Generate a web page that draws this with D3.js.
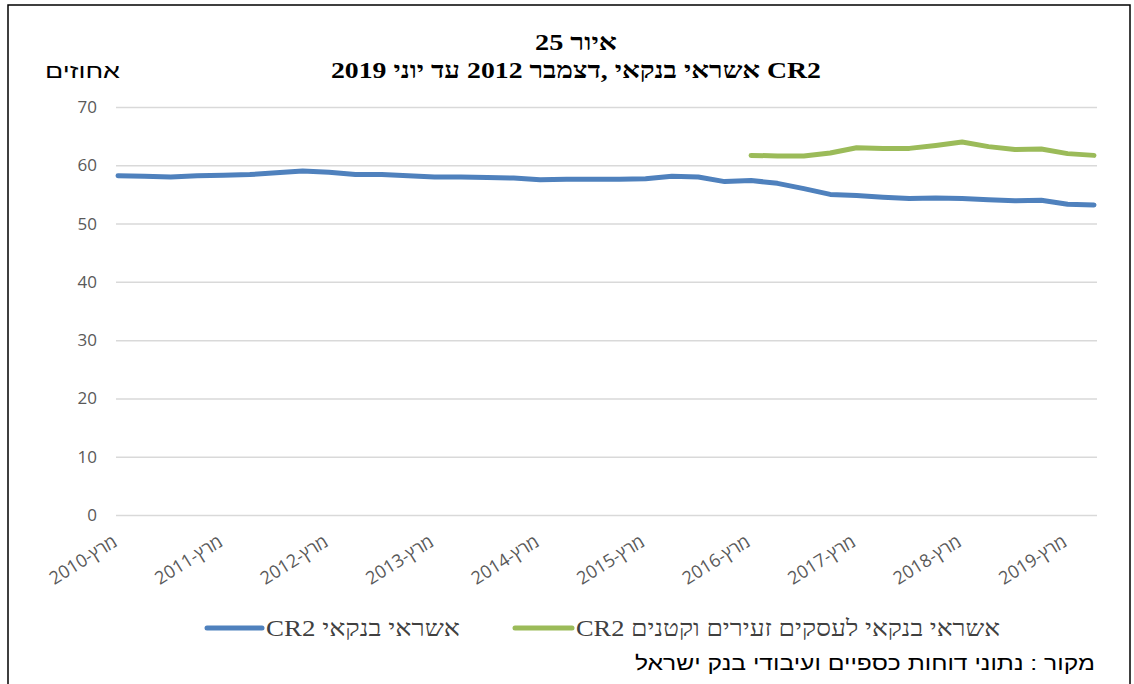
<!DOCTYPE html>
<html>
<head>
<meta charset="utf-8">
<script src="https://cdn.jsdelivr.net/npm/d3@7"></script>
<style>
  body { margin: 0; background: #fff; }
</style>
</head>
<body>
<svg width="1134" height="684"></svg>
<script>
const svg = d3.select("svg");

// quarterly categories, March 2010 .. June 2019
var quarters = [
  "מרץ-2010", "יוני-2010", "ספט-2010", "דצמ-2010",
  "מרץ-2011", "יוני-2011", "ספט-2011", "דצמ-2011",
  "מרץ-2012", "יוני-2012", "ספט-2012", "דצמ-2012",
  "מרץ-2013", "יוני-2013", "ספט-2013", "דצמ-2013",
  "מרץ-2014", "יוני-2014", "ספט-2014", "דצמ-2014",
  "מרץ-2015", "יוני-2015", "ספט-2015", "דצמ-2015",
  "מרץ-2016", "יוני-2016", "ספט-2016", "דצמ-2016",
  "מרץ-2017", "יוני-2017", "ספט-2017", "דצמ-2017",
  "מרץ-2018", "יוני-2018", "ספט-2018", "דצמ-2018",
  "מרץ-2019", "יוני-2019",
];

var bankCredit = [
  58.2, 58.1, 58.0, 58.2, 58.3, 58.4, 58.7, 59.0, 58.8, 58.4,
  58.4, 58.2, 58.0, 58.0, 57.9, 57.8, 57.5, 57.6, 57.6, 57.6,
  57.7, 58.1, 58.0, 57.2, 57.4, 56.9, 56.0, 55.0, 54.8, 54.5,
  54.3, 54.4, 54.3, 54.1, 53.9, 54.0, 53.3, 53.2,
];

var smallBizCredit = [
  null, null, null, null, null, null, null, null, null, null,
  null, null, null, null, null, null, null, null, null, null,
  null, null, null, null, 61.7, 61.6, 61.6, 62.1, 63.0, 62.9,
  62.9, 63.4, 64.0, 63.2, 62.7, 62.8, 62.0, 61.7,
];

var yTicks = [0, 10, 20, 30, 40, 50, 60, 70];

var seriesNames = ["אשראי בנקאי CR2", "אשראי בנקאי לעסקים זעירים וקטנים CR2"];
var seriesColors = ["#4f81bd", "#9bbb59"];

var x = d3.scalePoint().domain(quarters).range([118, 1094]);
var y = d3.scaleLinear().domain([0, 70]).range([515, 107]);

// outer frame
svg
  .append("rect")
  .attr("x", 8)
  .attr("y", 5)
  .attr("width", 1122)
  .attr("height", 690)
  .attr("fill", "none")
  .attr("stroke", "#000")
  .attr("stroke-width", 1.5);

// titles
var title = svg
  .append("g")
  .attr("font-family", "'Liberation Serif', 'DejaVu Serif', serif")
  .attr("font-weight", "bold")
  .attr("fill", "#000")
  .attr("text-anchor", "middle")
  .attr("direction", "rtl");

title
  .append("text")
  .attr("x", 576)
  .attr("y", 50)
  .attr("font-size", 23)
  .attr("textLength", 82)
  .attr("lengthAdjust", "spacingAndGlyphs")
  .text("איור 25");
title
  .append("text")
  .attr("x", 576)
  .attr("y", 78)
  .attr("font-size", 23)
  .attr("textLength", 490)
  .attr("lengthAdjust", "spacingAndGlyphs")
  .text("CR2 אשראי בנקאי ,דצמבר 2012 עד יוני 2019");

svg
  .append("text")
  .attr("x", 120)
  .attr("y", 78)
  .attr("text-anchor", "end")
  .attr("font-family", "'Liberation Sans', 'DejaVu Sans', sans-serif")
  .attr("font-size", 20)
  .attr("textLength", 75)
  .attr("lengthAdjust", "spacingAndGlyphs")
  .attr("fill", "#000")
  .text("אחוזים");

// gridlines + y labels
var yAxis = svg
  .append("g")
  .attr("transform", "translate(116,0)")
  .call(
    d3
      .axisLeft(y)
      .tickValues(yTicks)
      .tickSize(-981)
      .tickPadding(19)
  );

yAxis.select(".domain").remove();
yAxis
  .selectAll(".tick line")
  .attr("stroke", "#d9d9d9")
  .attr("stroke-width", 1.5);
yAxis
  .selectAll(".tick text")
  .attr("font-family", "'Open Sans', 'DejaVu Sans', sans-serif")
  .attr("font-size", 17)
  .attr("fill", "#595959");

// x labels, every March
var xAxis = svg
  .append("g")
  .attr("transform", "translate(0,515)")
  .call(
    d3
      .axisBottom(x)
      .tickValues(quarters.filter((d, i) => i % 4 == 0))
      .tickSize(0)
      .tickPadding(0)
  );

xAxis.select(".domain").remove();
xAxis
  .selectAll(".tick text")
  .attr("font-family", "'Open Sans', 'DejaVu Sans', sans-serif")
  .attr("font-size", 18)
  .attr("fill", "#595959")
  .attr("direction", "rtl")
  .attr("text-anchor", "start")
  .attr("dy", 0)
  .attr("transform", "translate(0,30) rotate(-32)");

// lines
var line = d3
  .line()
  .defined((d) => d.v != null)
  .x((d) => x(d.q))
  .y((d) => y(d.v));

var series = [bankCredit, smallBizCredit].map((vals) =>
  vals.map((v, i) => ({ q: quarters[i], v: v }))
);

svg
  .append("g")
  .selectAll("path")
  .data(series)
  .enter()
  .append("path")
  .attr("d", line)
  .attr("fill", "none")
  .attr("stroke", (d, i) => seriesColors[i])
  .attr("stroke-width", 5)
  .attr("stroke-linecap", "round")
  .attr("stroke-linejoin", "round");

// legend
var legendPos = [
  { x: 207, w: 55, tw: 194 },
  { x: 515, w: 57, tw: 424 },
];

var legend = svg
  .append("g")
  .selectAll("g")
  .data(seriesNames)
  .enter()
  .append("g")
  .attr("transform", (d, i) => `translate(${legendPos[i].x},628)`);

legend
  .append("line")
  .attr("x1", 0)
  .attr("x2", (d, i) => legendPos[i].w)
  .attr("stroke", (d, i) => seriesColors[i])
  .attr("stroke-width", 5)
  .attr("stroke-linecap", "round");

legend
  .append("text")
  .attr("x", (d, i) => legendPos[i].w + 4)
  .attr("y", 8)
  .attr("direction", "rtl")
  .attr("text-anchor", "end")
  .attr("font-family", "'Liberation Serif', 'DejaVu Serif', serif")
  .attr("font-size", 23)
  .attr("textLength", (d, i) => legendPos[i].tw)
  .attr("lengthAdjust", "spacingAndGlyphs")
  .attr("fill", "#404040")
  .text((d) => d);

// source note
svg
  .append("text")
  .attr("x", 1095)
  .attr("y", 670)
  .attr("direction", "rtl")
  .attr("text-anchor", "start")
  .attr("font-family", "'Liberation Sans', 'DejaVu Sans', sans-serif")
  .attr("font-size", 20)
  .attr("textLength", 460)
  .attr("lengthAdjust", "spacingAndGlyphs")
  .attr("fill", "#000")
  .text("מקור : נתוני דוחות כספיים ועיבודי בנק ישראל");
</script>
</body>
</html>
